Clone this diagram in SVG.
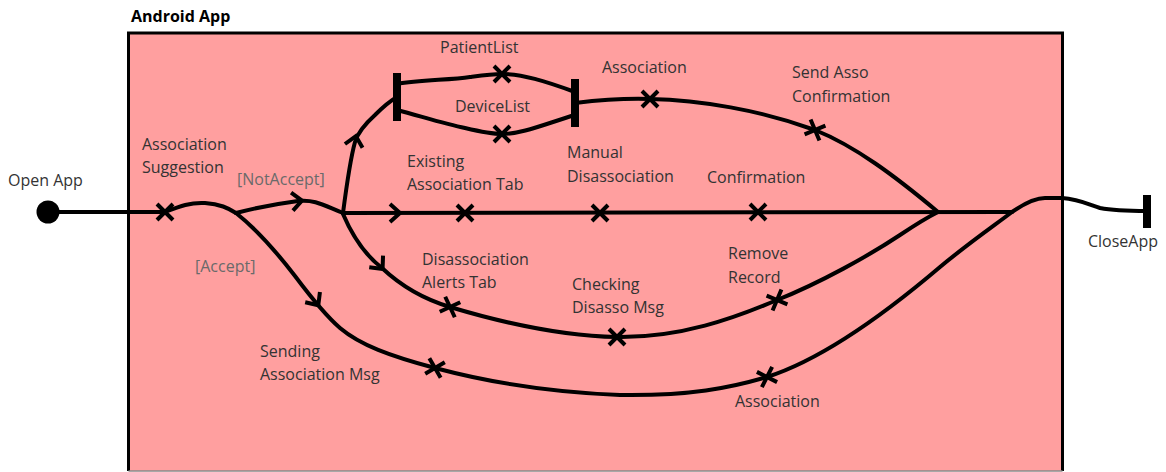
<svg xmlns="http://www.w3.org/2000/svg" width="1166" height="472" viewBox="0 0 1166 472">
  <style>
    .lbl { font-family: "Open Sans", "Noto Sans", "Liberation Sans", sans-serif; font-size: 16px; fill: #333333; }
    .guard { font-family: "Open Sans", "Noto Sans", "Liberation Sans", sans-serif; font-size: 16px; fill: #6a6a6a; }
    .title { font-family: "Open Sans", "Noto Sans", "Liberation Sans", sans-serif; font-size: 16px; font-weight: bold; fill: #000000; }
    .flow { fill: none; stroke: #000000; stroke-width: 4; stroke-linecap: round; stroke-linejoin: round; }
    .bar { fill: #000000; }
  </style>
  <defs>
    <!-- state cross drawn on a transition line -->
    <path id="cross" d="M-8,-8 L8,8 M-8,8 L8,-8" fill="none" stroke="#000000" stroke-width="4" stroke-linecap="butt"/>
    <!-- open chevron showing direction of travel -->
    <path id="chev" d="M-6,-9 L4,0 L-6,9" fill="none" stroke="#000000" stroke-width="4" stroke-linecap="butt" stroke-linejoin="miter"/>
  </defs>

  <rect width="1166" height="472" fill="#ffffff"/>

  <!-- swimlane container -->
  <g id="android-app">
    <rect x="128.5" y="33" width="934" height="438" fill="#FF9F9F"/>
    <path d="M128.5,471 L128.5,33 L1062.5,33 L1062.5,471" fill="none" stroke="#000000" stroke-width="3"/>
    <line x1="128.5" y1="471" x2="1062.5" y2="471" stroke="#8a8a8a" stroke-width="1.5"/>
    <text class="title" x="131" y="22">Android App</text>
  </g>

  <!-- transitions -->
  <g id="connectors">
    <path class="flow" d="M48,212 L165,212"/>
    <path class="flow" d="M165,212 C178,207 190,202 205,203 C220,204 228,208 236,213"/>
    <!-- [NotAccept] -->
    <path class="flow" d="M236,213 C255,208 275,204 298,201 C315,199 325,206 343,213"/>
    <!-- [Accept] -->
    <path class="flow" d="M236,213 C255,228 275,250 295,276 C310,296 325,315 340,328 C360,345 390,356 435,368 C480,380 540,392 620,395 C690,396 730,388 767,377 C820,360 880,318 940,267 C970,242 995,225 1012,212 C1025,203 1035,198 1045,198 L1062,198 C1078,199 1088,204 1100,208 C1115,211 1130,211 1147,211"/>
    <!-- main horizontal flow -->
    <path class="flow" d="M343,213 L1012,212"/>
    <!-- up to fork -->
    <path class="flow" d="M343,213 C346,190 350,160 355,142 C358,132 365,124 375,115 C383,107 390,101 397,97"/>
    <path class="flow" d="M397,84 C420,80 450,80 470,77 C485,75 492,74 502,74 C522,74 545,81 575,92"/>
    <path class="flow" d="M397,110 C420,116 445,124 465,128 C482,132 492,134 502,134 C522,134 545,124 575,115"/>
    <path class="flow" d="M575,103 C600,100 620,98 650,99 C700,100 760,110 815,130 C855,146 895,176 938,212"/>
    <!-- down to disassociation -->
    <path class="flow" d="M343,214 C352,235 365,255 382,268 C400,285 420,298 450,307 C500,322 560,336 617,337 C680,338 735,318 777,300 C820,283 870,255 900,235 C915,225 928,217 938,212"/>
    <!-- direction chevrons -->
    <use href="#chev" transform="translate(298,201) rotate(-6)"/>
    <use href="#chev" transform="translate(396,213)"/>
    <use href="#chev" transform="translate(355,140) rotate(-78)"/>
    <use href="#chev" transform="translate(380,266) rotate(50)"/>
    <use href="#chev" transform="translate(316,302) rotate(55)"/>
  </g>

  <g id="open-app">
    <circle cx="48" cy="212" r="11.5" fill="#000000"/>
    <text class="lbl" x="8" y="186">Open App</text>
  </g>

  <g id="association-suggestion">
    <use href="#cross" transform="translate(165,212)"/>
    <text class="lbl" x="142" y="150">Association</text>
    <text class="lbl" x="142" y="173">Suggestion</text>
  </g>

  <g id="guard-notaccept">
    <text class="guard" x="237" y="185">[NotAccept]</text>
  </g>
  <g id="guard-accept">
    <text class="guard" x="195" y="272">[Accept]</text>
  </g>

  <g id="fork">
    <rect class="bar" x="393" y="73" width="8" height="48"/>
  </g>
  <g id="patient-list">
    <use href="#cross" transform="translate(502,74)"/>
    <text class="lbl" x="440" y="53">PatientList</text>
  </g>
  <g id="device-list">
    <use href="#cross" transform="translate(502,134)"/>
    <text class="lbl" x="455" y="112">DeviceList</text>
  </g>
  <g id="join">
    <rect class="bar" x="571" y="79" width="8" height="48"/>
  </g>
  <g id="association-top">
    <use href="#cross" transform="translate(650,99)"/>
    <text class="lbl" x="602" y="73">Association</text>
  </g>
  <g id="send-asso-confirmation">
    <use href="#cross" transform="translate(815,130) rotate(22)"/>
    <text class="lbl" x="792" y="78">Send Asso</text>
    <text class="lbl" x="792" y="102">Confirmation</text>
  </g>

  <g id="existing-association-tab">
    <use href="#cross" transform="translate(465,213)"/>
    <text class="lbl" x="407" y="167">Existing</text>
    <text class="lbl" x="407" y="190">Association Tab</text>
  </g>
  <g id="manual-disassociation">
    <use href="#cross" transform="translate(600,213)"/>
    <text class="lbl" x="567" y="158">Manual</text>
    <text class="lbl" x="567" y="182">Disassociation</text>
  </g>
  <g id="confirmation">
    <use href="#cross" transform="translate(758,212)"/>
    <text class="lbl" x="707" y="183">Confirmation</text>
  </g>

  <g id="disassociation-alerts-tab">
    <use href="#cross" transform="translate(450,307) rotate(20)"/>
    <text class="lbl" x="422" y="265">Disassociation</text>
    <text class="lbl" x="422" y="288">Alerts Tab</text>
  </g>
  <g id="checking-disasso-msg">
    <use href="#cross" transform="translate(617,337)"/>
    <text class="lbl" x="572" y="290">Checking</text>
    <text class="lbl" x="572" y="313">Disasso Msg</text>
  </g>
  <g id="remove-record">
    <use href="#cross" transform="translate(777,300) rotate(-22)"/>
    <text class="lbl" x="728" y="259">Remove</text>
    <text class="lbl" x="728" y="283">Record</text>
  </g>

  <g id="sending-association-msg">
    <use href="#cross" transform="translate(435,368) rotate(15)"/>
    <text class="lbl" x="260" y="357">Sending</text>
    <text class="lbl" x="260" y="380">Association Msg</text>
  </g>
  <g id="association-bottom">
    <use href="#cross" transform="translate(767,377) rotate(-18)"/>
    <text class="lbl" x="735" y="407">Association</text>
  </g>

  <g id="close-app">
    <rect class="bar" x="1143" y="195" width="8" height="33"/>
    <text class="lbl" x="1088" y="247">CloseApp</text>
  </g>
</svg>
